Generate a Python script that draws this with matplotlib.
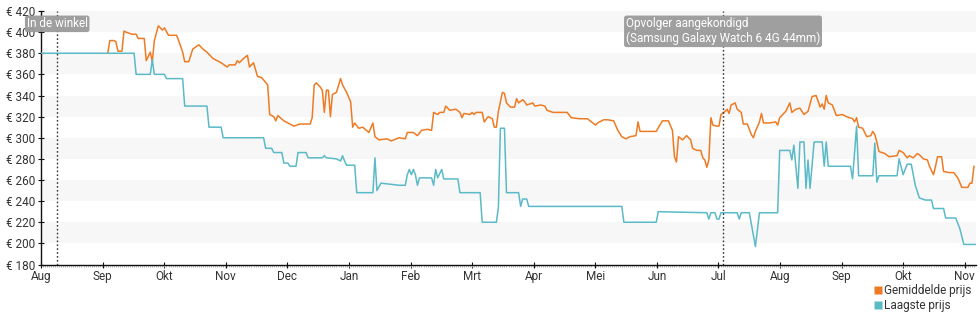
import numpy as np
import matplotlib
matplotlib.use('Agg')
import matplotlib.pyplot as plt
import matplotlib.transforms as mtransforms
from matplotlib.lines import Line2D

plt.rcParams['font.family'] = ['Roboto', 'DejaVu Sans']

#-------------------------------------------------------------------------------
# Data (dagen sinds begin aug, prijs in euro)
#-------------------------------------------------------------------------------
maanden = ['Aug', 'Sep', 'Okt', 'Nov', 'Dec', 'Jan', 'Feb', 'Mrt',
           'Apr', 'Mei', 'Jun', 'Jul', 'Aug', 'Sep', 'Okt', 'Nov']
dagen_per_maand = 30.43
dag_einde = 462

gem_dag = [33, 34, 36, 37, 38, 40, 41, 42, 45, 47, 48, 51, 52, 54, 55, 56, 58, 60, 61, 63,
           67, 68, 70, 71, 73, 75, 78, 80, 82, 85, 89, 92, 93, 96, 97, 98, 100, 102, 103, 105,
           107, 109, 112, 113, 115, 116, 117, 120, 123, 125, 128, 133, 134, 135, 136, 138, 139, 140, 141, 142,
           143, 144, 146, 148, 149, 151, 153, 154, 155, 157, 159, 162, 164, 165, 167, 171, 173, 177, 180, 181,
           184, 186, 188, 191, 193, 194, 196, 197, 199, 200, 202, 205, 207, 208, 209, 212, 213, 214, 215, 218,
           219, 221, 223, 224, 225, 226, 228, 229, 230, 232, 234, 235, 236, 238, 239, 240, 243, 244, 247, 249,
           250, 253, 260, 262, 266, 270, 272, 274, 275, 276, 278, 280, 283, 285, 287, 289, 291, 294, 295, 296,
           304, 307, 310, 312, 313, 314, 315, 317, 318, 319, 321, 322, 324, 326, 327, 328, 329, 330, 331, 332,
           334, 335, 336, 338, 339, 340, 341, 343, 344, 346, 347, 349, 351, 352, 353, 355, 356, 357, 360, 363,
           364, 365, 368, 370, 371, 373, 375, 376, 377, 379, 381, 383, 385, 386, 387, 388, 389, 391, 393, 396,
           398, 401, 402, 403, 404, 406, 407, 408, 410, 411, 412, 413, 414, 417, 419, 423, 424, 426, 428, 429,
           431, 433, 434, 436, 438, 439, 441, 442, 443, 445, 446, 449, 451, 453, 455, 458, 459, 460, 461]
gem_prijs = [380, 392, 392, 391, 382, 382, 401, 400, 398, 398, 394, 394, 373, 381, 372, 392, 406, 402, 404, 397,
             397, 392, 381, 372, 372, 384, 388, 384, 381, 375, 371, 367, 369, 369, 373, 371, 375, 378, 367, 371,
             358, 357, 350, 322, 320, 316, 321, 316, 313, 311, 313, 313, 319, 350, 352, 348, 345, 324, 345, 345,
             320, 341, 343, 356, 350, 343, 334, 310, 314, 309, 310, 305, 314, 301, 298, 299, 297, 300, 299, 305,
             305, 302, 307, 308, 307, 324, 322, 324, 324, 330, 326, 327, 324, 319, 323, 322, 324, 322, 324, 324,
             315, 320, 318, 310, 310, 325, 343, 342, 333, 329, 329, 337, 333, 336, 334, 331, 333, 330, 331, 330,
             326, 324, 324, 319, 318, 318, 315, 312, 314, 315, 317, 317, 316, 307, 301, 299, 301, 302, 315, 306,
             306, 316, 316, 307, 282, 277, 301, 298, 300, 302, 298, 290, 288, 288, 281, 279, 272, 279, 319, 312,
             311, 311, 322, 325, 327, 323, 331, 333, 327, 324, 313, 313, 303, 300, 306, 315, 323, 314, 314, 315,
             312, 319, 325, 333, 324, 327, 328, 325, 322, 325, 339, 340, 329, 332, 327, 340, 333, 331, 321, 322,
             320, 318, 315, 319, 310, 309, 305, 301, 302, 306, 303, 296, 287, 285, 282, 283, 288, 286, 281, 283,
             281, 285, 284, 280, 279, 273, 265, 273, 282, 282, 268, 267, 267, 262, 253, 253, 257, 257, 273]

laag_dag = [0, 46, 47, 54, 55, 56, 61, 62, 70, 71, 82, 83, 89, 90, 110, 111, 114, 115, 119, 120,
            122, 123, 126, 127, 131, 132, 139, 140, 141, 146, 148, 149, 150, 151, 155, 156, 164, 165, 166, 168,
            177, 180, 181, 182, 183, 184, 185, 186, 187, 193, 194, 195, 196, 198, 199, 206, 207, 217, 218, 225,
            226, 227, 229, 230, 236, 237, 238, 240, 241, 287, 288, 304, 305, 329, 330, 331, 333, 334, 335, 336,
            344, 345, 346, 350, 353, 355, 364, 365, 370, 371, 372, 374, 375, 377, 378, 379, 380, 382, 386, 387,
            388, 389, 400, 401, 403, 404, 411, 412, 413, 414, 423, 424, 426, 428, 430, 432, 434, 437, 440, 441,
            446, 447, 452, 454, 456, 462]
laag_prijs = [380, 380, 360, 360, 374, 360, 360, 356, 356, 330, 330, 310, 310, 300, 300, 290, 290, 286, 286, 276,
              276, 273, 273, 286, 286, 281, 281, 283, 281, 280, 278, 283, 278, 274, 274, 248, 248, 281, 250, 257,
              255, 255, 265, 270, 265, 270, 265, 255, 262, 262, 255, 270, 262, 270, 261, 261, 248, 248, 220, 220,
              234, 309, 309, 248, 248, 235, 242, 242, 235, 235, 220, 220, 230, 229, 223, 229, 229, 223, 223, 229,
              229, 223, 229, 229, 197, 229, 229, 288, 288, 279, 293, 252, 296, 296, 252, 279, 252, 296, 296, 273,
              296, 273, 273, 261, 311, 264, 264, 295, 258, 264, 264, 280, 265, 275, 275, 255, 243, 241, 241, 233,
              233, 224, 224, 214, 199, 199]

in_winkel_dag = 8
opvolger_dag = 337

#-------------------------------------------------------------------------------
# Figure
#-------------------------------------------------------------------------------
c_gem  = '#ee7b24'
c_laag = '#5bbac7'
c_txt  = '#333333'

fig = plt.figure(figsize=(9.8, 3.25), dpi=100)
ax = fig.add_axes([41/980, 1 - 264.5/325, 935/980, 253.5/325])

# lichte banden
for lo in range(200, 420, 40):
    ax.axhspan(lo, lo + 20, color='#f7f7f7', lw=0, zorder=0)

ax.plot(gem_dag, gem_prijs, color=c_gem, lw=1.1, zorder=3)
ax.plot(laag_dag, laag_prijs, color=c_laag, lw=1.1, zorder=3)

ax.set_xlim(0, dag_einde)
ax.set_ylim(180, 420)

ax.set_xticks([i * dagen_per_maand for i in range(len(maanden))])
ax.set_xticklabels(maanden)
ax.set_xticks(np.arange(0, dag_einde, 1), minor=True)
ax.set_yticks(range(180, 421, 20))
ax.set_yticklabels([f'€ {v}' for v in range(180, 421, 20)])

for s in ['top', 'right']:
    ax.spines[s].set_visible(False)
for s in ['left', 'bottom']:
    ax.spines[s].set_color('#111111')
    ax.spines[s].set_linewidth(1.0)

ax.tick_params(axis='both', which='major', direction='inout', length=5, width=0.8,
               colors='#111111', labelcolor=c_txt, labelsize=8.5, pad=1.5)
ax.tick_params(axis='x', which='minor', direction='out', length=1.5, width=0.6,
               color='#aaaaaa')
ax.tick_params(axis='y', which='minor', left=False)

# verticale markeringen
trans = mtransforms.blended_transform_factory(ax.transData, ax.transAxes)
for dag, tekst in [(in_winkel_dag, 'In de winkel'),
                   (opvolger_dag, 'Opvolger aangekondigd\n(Samsung Galaxy Watch 6 4G 44mm)')]:
    ax.axvline(dag, color='#333333', lw=1.0, ls=(0, (1.2, 1.6)), zorder=4)
    ax.text(dag, 0.975, tekst, transform=trans, ha='center', va='top',
            multialignment='left', color='white', fontsize=8.5, linespacing=1.15,
            zorder=5,
            bbox=dict(boxstyle='round,pad=0.15,rounding_size=0.2', fc='#9a9a9a',
                      ec='none', alpha=0.95))

# legenda
handles = [Line2D([], [], ls='none', marker='s', ms=5.5, mfc=c_gem, mec='none'),
           Line2D([], [], ls='none', marker='s', ms=5.5, mfc=c_laag, mec='none')]
fig.legend(handles, ['Gemiddelde prijs', 'Laagste prijs'], loc='lower right',
           bbox_to_anchor=(1.0, 0.015), frameon=False, fontsize=8.5,
           handlelength=0.6, handletextpad=0.2, labelspacing=0.15,
           borderpad=0.2, labelcolor=c_txt)

fig.savefig('out.png', dpi=100)
